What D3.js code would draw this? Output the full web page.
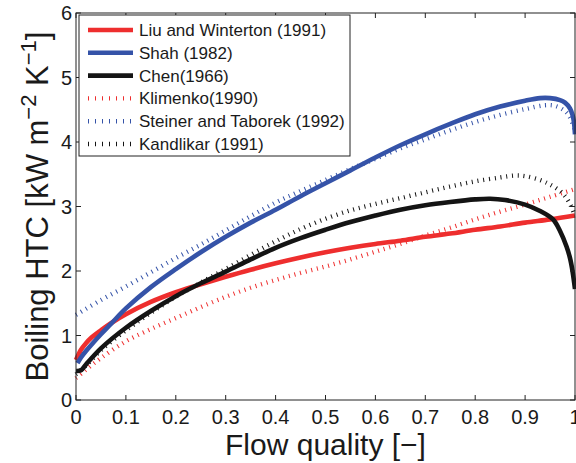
<!DOCTYPE html>
<html>
<head>
<meta charset="utf-8">
<script src="https://cdn.jsdelivr.net/npm/d3@7/dist/d3.min.js"></script>
<style>
  html, body { margin: 0; padding: 0; background: #fff; }
  svg { display: block; font-family: "Liberation Sans", Arial, sans-serif; }
</style>
</head>
<body>
<svg id="chart" width="576" height="463"></svg>
<script>
// Flow boiling heat transfer coefficient vs. vapour quality for six correlations
const liuQ   = [0, 0.01, 0.02, 0.03, 0.05, 0.07, 0.1, 0.15, 0.2, 0.24, 0.3, 0.35, 0.4, 0.45, 0.5, 0.55, 0.6, 0.65, 0.7, 0.75, 0.8, 0.85, 0.9, 0.95, 1.0];
const liuHTC = [0.62, 0.78, 0.88, 0.96, 1.08, 1.19, 1.33, 1.52, 1.67, 1.77, 1.91, 2.02, 2.12, 2.21, 2.29, 2.36, 2.42, 2.47, 2.53, 2.58, 2.64, 2.69, 2.75, 2.80, 2.86];

const shahQ   = [0.003, 0.01, 0.02, 0.03, 0.05, 0.07, 0.1, 0.15, 0.2, 0.25, 0.3, 0.35, 0.4, 0.45, 0.5, 0.55, 0.6, 0.65, 0.7, 0.75, 0.8, 0.85, 0.9, 0.93, 0.95, 0.97, 0.98, 0.99, 0.995, 0.998, 1.0];
const shahHTC = [0.57, 0.66, 0.76, 0.85, 1.02, 1.18, 1.42, 1.75, 2.03, 2.29, 2.53, 2.75, 2.95, 3.16, 3.36, 3.56, 3.76, 3.95, 4.12, 4.28, 4.43, 4.55, 4.64, 4.68, 4.68, 4.65, 4.61, 4.52, 4.42, 4.30, 4.12];

const chenQ   = [0, 0.01, 0.02, 0.05, 0.1, 0.15, 0.2, 0.25, 0.3, 0.35, 0.4, 0.45, 0.5, 0.55, 0.6, 0.65, 0.7, 0.75, 0.8, 0.83, 0.86, 0.9, 0.93, 0.956, 0.97, 0.983, 0.99, 0.995, 1.0];
const chenHTC = [0.45, 0.46, 0.55, 0.80, 1.12, 1.38, 1.61, 1.81, 1.99, 2.18, 2.36, 2.51, 2.64, 2.76, 2.86, 2.95, 3.02, 3.07, 3.11, 3.12, 3.10, 3.03, 2.93, 2.80, 2.62, 2.38, 2.2, 2.0, 1.72];

const klimQ   = [0, 0.02, 0.05, 0.1, 0.15, 0.2, 0.25, 0.3, 0.35, 0.4, 0.45, 0.5, 0.55, 0.6, 0.65, 0.7, 0.75, 0.8, 0.85, 0.9, 0.95, 1.0];
const klimHTC = [0.34, 0.47, 0.65, 0.91, 1.1, 1.27, 1.44, 1.6, 1.74, 1.86, 1.97, 2.07, 2.18, 2.30, 2.42, 2.55, 2.67, 2.80, 2.92, 3.03, 3.15, 3.27];

const steinQ   = [0, 0.05, 0.1, 0.15, 0.2, 0.25, 0.3, 0.35, 0.4, 0.45, 0.5, 0.55, 0.6, 0.65, 0.7, 0.75, 0.8, 0.85, 0.9, 0.94, 0.96, 0.98, 0.99, 1.0];
const steinHTC = [1.32, 1.55, 1.76, 1.98, 2.2, 2.41, 2.63, 2.85, 3.06, 3.24, 3.41, 3.58, 3.74, 3.9, 4.04, 4.18, 4.31, 4.42, 4.51, 4.57, 4.56, 4.48, 4.38, 4.17];

const kandQ   = [0, 0.02, 0.05, 0.1, 0.15, 0.2, 0.25, 0.3, 0.35, 0.4, 0.45, 0.5, 0.55, 0.6, 0.65, 0.7, 0.75, 0.8, 0.85, 0.88, 0.9, 0.93, 0.95, 0.97, 0.98, 0.99, 1.0];
const kandHTC = [0.40, 0.53, 0.77, 1.08, 1.35, 1.6, 1.82, 2.03, 2.25, 2.46, 2.65, 2.81, 2.94, 3.04, 3.13, 3.22, 3.31, 3.39, 3.45, 3.48, 3.47, 3.41, 3.34, 3.24, 3.16, 3.04, 2.85];

const seriesNames = ["Liu and Winterton (1991)", "Shah (1982)", "Chen(1966)", "Klimenko(1990)", "Steiner and Taborek (1992)", "Kandlikar (1991)"];
const xTicks = [0, 0.1, 0.2, 0.3, 0.4, 0.5, 0.6, 0.7, 0.8, 0.9, 1];
const yTicks = [0, 1, 2, 3, 4, 5, 6];

const RED = "#ee2e2e", BLUE = "#3553a8", BLACK = "#141414";
const series = [
  { name: seriesNames[0], q: liuQ,   v: liuHTC,   color: RED,   dotted: false },
  { name: seriesNames[1], q: shahQ,  v: shahHTC,  color: BLUE,  dotted: false },
  { name: seriesNames[2], q: chenQ,  v: chenHTC,  color: BLACK, dotted: false },
  { name: seriesNames[3], q: klimQ,  v: klimHTC,  color: RED,   dotted: true },
  { name: seriesNames[4], q: steinQ, v: steinHTC, color: BLUE,  dotted: true },
  { name: seriesNames[5], q: kandQ,  v: kandHTC,  color: BLACK, dotted: true }
];

const svg = d3.select("#chart");
const plotL = 76, plotR = 575, plotT = 13, plotB = 400;
const x = d3.scaleLinear().domain([0, 1]).range([plotL, plotR]);
const y = d3.scaleLinear().domain([0, 6]).range([plotB, plotT]);
const axisColor = "#222";
const textColor = "#1a1a1a";

// plotted curves (dotted ones first so solid lines sit on top)
const line = d3.line().x(d => x(d[0])).y(d => y(d[1])).curve(d3.curveCatmullRom.alpha(0.5));
const order = [3, 4, 5, 0, 1, 2];
const g = svg.append("g");
order.forEach(i => {
  const s = series[i];
  const pts = s.q.map((q, k) => [q, s.v[k]]);
  const p = g.append("path")
    .attr("d", line(pts))
    .attr("fill", "none")
    .attr("stroke", s.color);
  if (s.dotted) {
    p.attr("stroke-width", 4.4).attr("stroke-dasharray", "1,4.8");
  } else {
    p.attr("stroke-width", 4.6).attr("stroke-linejoin", "round");
  }
});

// axes box with inward ticks on all four sides
const tickLen = 5;
const axes = svg.append("g").attr("stroke", axisColor).attr("stroke-width", 1).attr("fill", "none");
axes.append("rect").attr("x", plotL).attr("y", plotT).attr("width", plotR - plotL).attr("height", plotB - plotT);
xTicks.forEach(t => {
  axes.append("line").attr("x1", x(t)).attr("x2", x(t)).attr("y1", plotB).attr("y2", plotB - tickLen);
  axes.append("line").attr("x1", x(t)).attr("x2", x(t)).attr("y1", plotT).attr("y2", plotT + tickLen);
});
yTicks.forEach(t => {
  axes.append("line").attr("x1", plotL).attr("x2", plotL + tickLen).attr("y1", y(t)).attr("y2", y(t));
  axes.append("line").attr("x1", plotR).attr("x2", plotR - tickLen).attr("y1", y(t)).attr("y2", y(t));
});

// tick labels
svg.append("g").selectAll("text").data(xTicks).join("text")
  .attr("x", d => x(d)).attr("y", 424)
  .attr("text-anchor", "middle").attr("font-size", 20).attr("fill", textColor)
  .text(d => d3.format("~g")(d));
svg.append("g").selectAll("text").data(yTicks).join("text")
  .attr("x", 72).attr("y", d => y(d) + 7)
  .attr("text-anchor", "end").attr("font-size", 20).attr("fill", textColor)
  .text(d => d);

// axis titles
svg.append("text")
  .attr("x", (plotL + plotR) / 2).attr("y", 455)
  .attr("text-anchor", "middle").attr("font-size", 30).attr("fill", textColor)
  .text("Flow quality [\u2212]");

const yl = svg.append("text")
  .attr("transform", `translate(48,${(plotT + plotB) / 2}) rotate(-90)`)
  .attr("text-anchor", "middle").attr("font-size", 31).attr("fill", textColor);
yl.append("tspan").text("Boiling HTC [kW m");
yl.append("tspan").attr("font-size", 22).attr("dy", -12).text("\u22122");
yl.append("tspan").attr("dy", 12).text(" K");
yl.append("tspan").attr("font-size", 22).attr("dy", -12).text("\u22121");
yl.append("tspan").attr("dy", 12).text("]");

// legend
const lg = svg.append("g");
lg.append("rect").attr("x", 79).attr("y", 15).attr("width", 271).attr("height", 141)
  .attr("fill", "#fff").attr("stroke", axisColor).attr("stroke-width", 1);
series.forEach((s, i) => {
  const ry = 30 + i * 22.8;
  const l = lg.append("line").attr("x1", 88).attr("x2", 133).attr("y1", ry).attr("y2", ry)
    .attr("stroke", s.color);
  if (s.dotted) l.attr("stroke-width", 4.4).attr("stroke-dasharray", "1,6");
  else l.attr("stroke-width", 4.6);
  lg.append("text").attr("x", 139).attr("y", ry + 6)
    .attr("font-size", 17).attr("fill", textColor).text(s.name);
});
</script>
</body>
</html>
